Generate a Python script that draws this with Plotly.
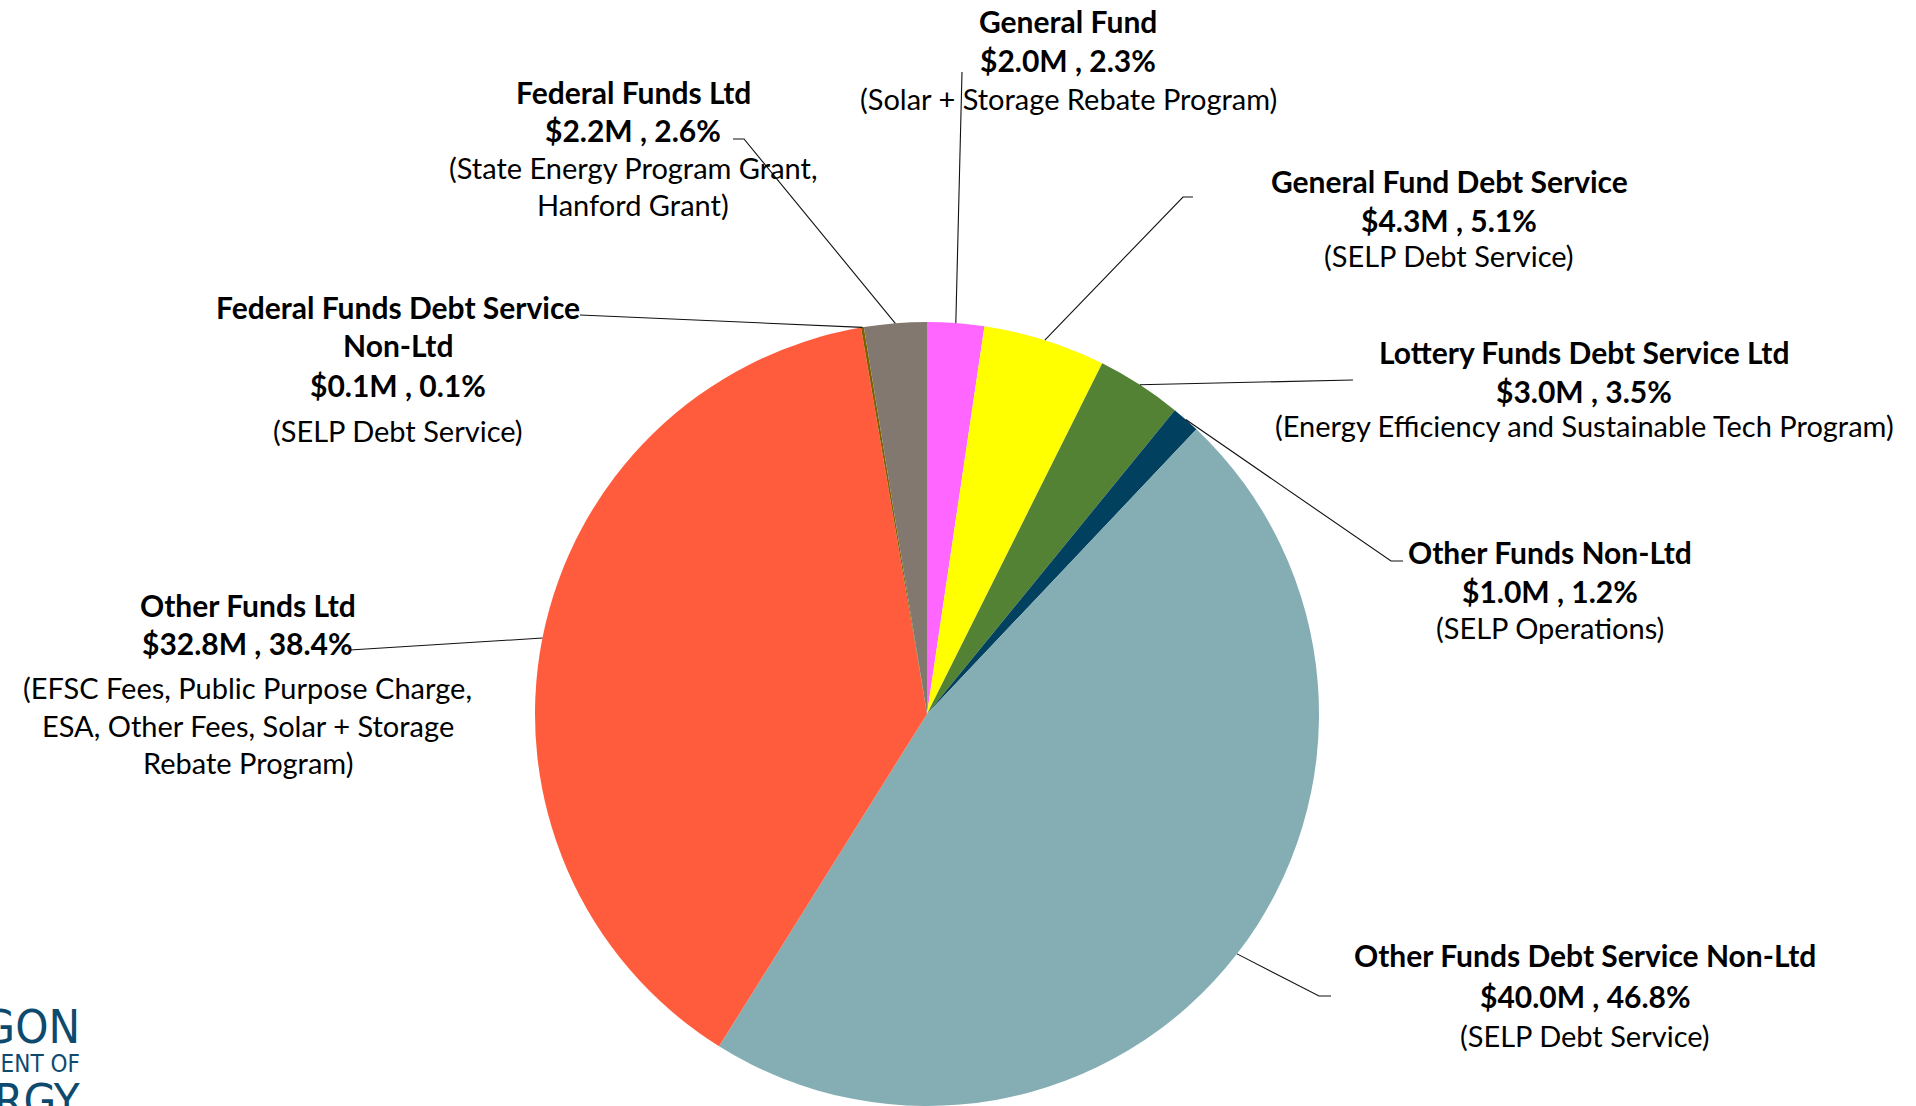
import math
import plotly.graph_objects as go

W, H = 1916, 1106

# ---- data ----
categories = [
    "General Fund",
    "General Fund Debt Service",
    "Lottery Funds Debt Service Ltd",
    "Other Funds Non-Ltd",
    "Other Funds Debt Service Non-Ltd",
    "Other Funds Ltd",
    "Federal Funds Debt Service Non-Ltd",
    "Federal Funds Ltd",
]
values_m = [2.0, 4.3, 3.0, 1.0, 40.0, 32.8, 0.1, 2.2]
pct_labels = ["2.3%", "5.1%", "3.5%", "1.2%", "46.8%", "38.4%", "0.1%", "2.6%"]
descriptions = [
    ["(Solar + Storage Rebate Program)"],
    ["(SELP Debt Service)"],
    ["(Energy Efficiency and Sustainable Tech Program)"],
    ["(SELP Operations)"],
    ["(SELP Debt Service)"],
    ["(EFSC Fees, Public Purpose Charge,", "ESA, Other Fees, Solar + Storage", "Rebate Program)"],
    ["(SELP Debt Service)"],
    ["(State Energy Program Grant,", "Hanford Grant)"],
]
title_lines = [
    ["General Fund"],
    ["General Fund Debt Service"],
    ["Lottery Funds Debt Service Ltd"],
    ["Other Funds Non-Ltd"],
    ["Other Funds Debt Service Non-Ltd"],
    ["Other Funds Ltd"],
    ["Federal Funds Debt Service", "Non-Ltd"],
    ["Federal Funds Ltd"],
]
colors = ["#FF66FF", "#FFFF00", "#548235", "#01405F", "#84AEB3", "#FF5C3D", "#7F6000", "#827870"]

# ---- layout (pixel positions of labels) ----
CX, CY, R = 927, 714, 392
label_center_x = [1068, 1449, 1584, 1550, 1585, 248, 398, 633]
label_line_y = [
    [21, 60, 99],
    [181, 220, 256],
    [352, 391, 426],
    [552, 591, 627],
    [955, 996, 1035],
    [605, 643, 687, 725, 762],
    [307, 345, 385, 430],
    [92, 130, 167, 204],
]
# leader line points after the slice edge (label side)
leader_ends = [
    [(962, 72)],
    [(1183, 197), (1193, 197)],
    [(1353, 380)],
    [(1391, 561), (1403, 561)],
    [(1319, 996), (1331, 996)],
    [(350, 650)],
    [(580, 315)],
    [(744, 139), (733, 139)],
]

def px(x):
    return x / W

def py(y):
    return 1 - y / H

fig = go.Figure()
fig.add_trace(go.Pie(
    labels=categories,
    values=values_m,
    sort=False,
    direction="clockwise",
    rotation=0,
    marker=dict(colors=colors, line=dict(width=0)),
    textinfo="none",
    hovertemplate="%{label}<br>$%{value}M<extra></extra>",
    domain=dict(x=[px(CX - R), px(CX + R)], y=[py(CY + R), py(CY - R)]),
    showlegend=False,
))

BOLD = 30
REG = 29
FONT = "Lato"
annotations = []
shapes = []
total = sum(values_m)
cum = 0.0
for i, v in enumerate(values_m):
    mid = (cum + v / 2) / total * 2 * math.pi
    cum += v
    sx = CX + R * math.sin(mid)
    sy = CY - R * math.cos(mid)
    pts = [(sx, sy)] + leader_ends[i]
    path = "M " + " L ".join(f"{px(x):.5f},{py(y):.5f}" for x, y in pts)
    shapes.append(dict(type="path", path=path, xref="paper", yref="paper",
                       line=dict(color="#111111", width=1.1)))

    lines = [(t, True) for t in title_lines[i]]
    lines.append((f"${v:.1f}M , {pct_labels[i]}", True))
    lines += [(d, False) for d in descriptions[i]]
    for (txt, bold), yy in zip(lines, label_line_y[i]):
        annotations.append(dict(
            x=px(label_center_x[i]), y=py(yy), xref="paper", yref="paper",
            text=f"<b>{txt}</b>" if bold else txt, showarrow=False,
            xanchor="center", yanchor="middle",
            font=dict(family=FONT, size=BOLD if bold else REG, color="#000000"),
        ))

# partially visible logo in lower-left corner
logo_color = "#0E4A6E"
logo_font = "Liberation Sans Narrow, DejaVu Sans Condensed, Roboto, Liberation Sans"
for txt, yy, sz in [("OREGON", 1026, 47), ("DEPARTMENT OF", 1064, 24), ("ENERGY", 1100, 47)]:
    annotations.append(dict(
        x=px(82), y=py(yy), xref="paper", yref="paper", text=txt, showarrow=False,
        xanchor="right", yanchor="middle",
        font=dict(family=logo_font, size=sz, color=logo_color),
    ))

fig.update_layout(
    width=W, height=H,
    margin=dict(l=0, r=0, t=0, b=0),
    paper_bgcolor="white", plot_bgcolor="white",
    annotations=annotations, shapes=shapes,
)
fig.write_html(
    "out.html",
    config={"displayModeBar": False},
    post_script="document.body.style.margin='0';document.body.style.overflow='hidden';",
)
